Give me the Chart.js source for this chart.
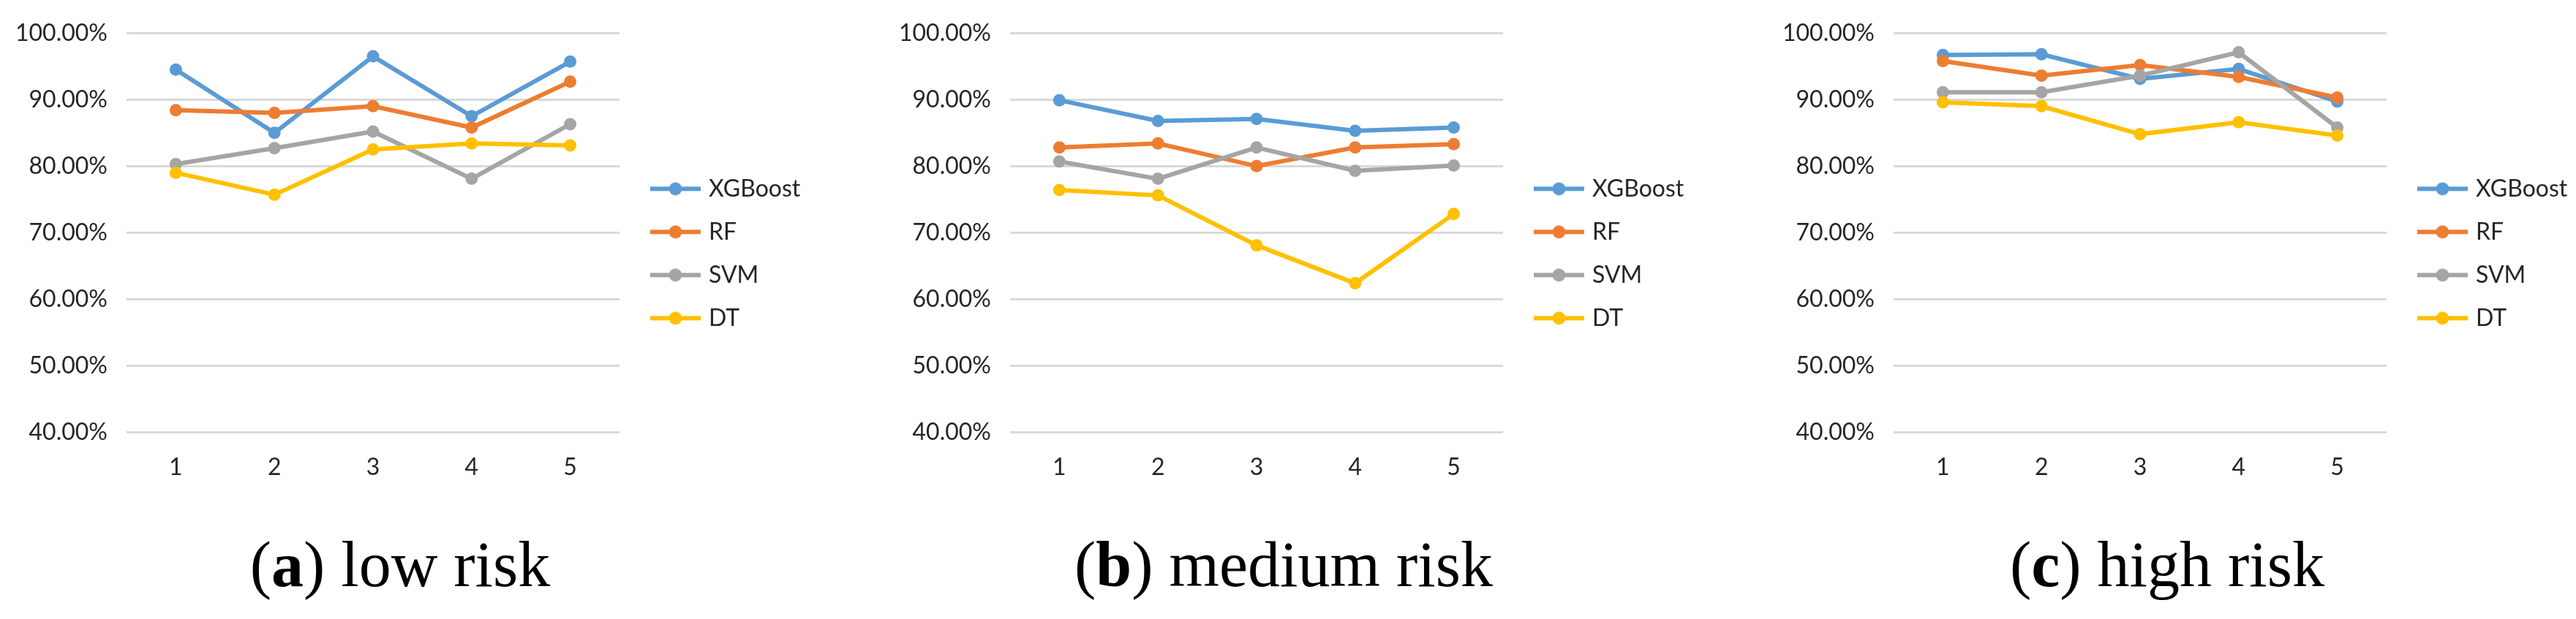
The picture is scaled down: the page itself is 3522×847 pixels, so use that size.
<!DOCTYPE html>
<html><head><meta charset="utf-8">
<script src="https://cdn.jsdelivr.net/npm/chart.js@4.4.1/dist/chart.umd.min.js"></script>
<style>
html,body{margin:0;padding:0;background:#fff;width:3522px;height:847px;overflow:hidden;position:relative;}
.panel{position:absolute;top:0;width:1200px;height:700px;}
.cap{position:absolute;top:729px;width:700px;text-align:center;font-family:"Liberation Serif","Times New Roman",serif;font-size:88px;line-height:88px;color:#000;white-space:nowrap;}
</style></head><body>
<div class="panel" style="left:0px"><canvas id="cA" width="1200" height="700"></canvas></div>
<div class="panel" style="left:1208px"><canvas id="cB" width="1200" height="700"></canvas></div>
<div class="panel" style="left:2416px"><canvas id="cC" width="1200" height="700"></canvas></div>
<div class="cap" style="left:197px">(<b>a</b>) low risk</div>
<div class="cap" style="left:1405px">(<b>b</b>) medium risk</div>
<div class="cap" style="left:2613px">(<b>c</b>) high risk</div>
<script>
const categories = ['1','2','3','4','5'];
const seriesNames = ['XGBoost','RF','SVM','DT'];
const seriesColors = ['#5B9BD5','#ED7D31','#A5A5A5','#FFC000'];
const yTickValues = [40,50,60,70,80,90,100];

const lowXGBoost = [94.5, 85.0, 96.5, 87.5, 95.7];
const lowRF      = [88.4, 88.0, 89.0, 85.8, 92.7];
const lowSVM     = [80.3, 82.7, 85.2, 78.1, 86.3];
const lowDT      = [79.0, 75.7, 82.5, 83.4, 83.1];

const medXGBoost = [89.9, 86.8, 87.1, 85.3, 85.8];
const medRF      = [82.8, 83.4, 80.0, 82.8, 83.3];
const medSVM     = [80.7, 78.1, 82.8, 79.3, 80.1];
const medDT      = [76.4, 75.6, 68.1, 62.4, 72.8];

const highXGBoost = [96.7, 96.8, 93.1, 94.6, 89.7];
const highRF      = [95.8, 93.6, 95.2, 93.4, 90.3];
const highSVM     = [91.1, 91.1, 93.6, 97.1, 85.8];
const highDT      = [89.6, 89.0, 84.8, 86.6, 84.6];

const panels = [
  {id:'cA', series:[lowXGBoost, lowRF, lowSVM, lowDT]},
  {id:'cB', series:[medXGBoost, medRF, medSVM, medDT]},
  {id:'cC', series:[highXGBoost, highRF, highSVM, highDT]}
];

const textColor = '#262626';
const fontFamily = 'Lato, "Open Sans", sans-serif';
const tickFont = {family: fontFamily, size: 32};

// legend geometry: width computed from text so the plot area ends at the same place
const LEGEND_PAD = 27, LEGEND_BOX = 79, CANVAS_W = 1200, PLOT_RIGHT = 847;
const mctx = document.createElement('canvas').getContext('2d');
mctx.font = '32px ' + fontFamily;
const maxText = Math.max(...seriesNames.map(s => mctx.measureText(s).width));
const legendW = LEGEND_PAD + LEGEND_BOX + 16 + maxText + 10;
const padRight = Math.max(0, CANVAS_W - PLOT_RIGHT - legendW);

function legendImage(color){
  const c = document.createElement('canvas');
  c.width = 89; c.height = 24;
  const g = c.getContext('2d');
  g.strokeStyle = color; g.lineWidth = 6;
  g.beginPath(); g.moveTo(20,12); g.lineTo(89,12); g.stroke();
  g.fillStyle = color;
  g.beginPath(); g.arc(54.5,12,9,0,Math.PI*2); g.fill();
  return c;
}
const legendImages = seriesColors.map(legendImage);

panels.forEach(p => {
  const datasets = p.series.map((vals, i) => ({
    label: seriesNames[i],
    data: vals,
    borderColor: seriesColors[i],
    backgroundColor: seriesColors[i],
    borderWidth: 6,
    pointRadius: 8.5,
    pointBorderWidth: 0,
    pointBackgroundColor: seriesColors[i],
    tension: 0,
    order: seriesNames.length - i
  }));
  new Chart(document.getElementById(p.id), {
    type: 'line',
    data: {labels: categories, datasets},
    options: {
      responsive: false,
      animation: false,
      layout: {padding: {left: 0, top: 42.5, right: padRight, bottom: 0}},
      scales: {
        x: {
          type: 'category', offset: true,
          grid: {display: false, drawTicks: false},
          border: {display: false},
          ticks: {padding: 29.3, color: textColor, font: tickFont, maxRotation: 0},
          afterFit: s => { s.height = 108.5; }
        },
        y: {
          min: 40, max: 100,
          grid: {color: '#D9D9D9', lineWidth: 3, drawTicks: false},
          border: {display: false},
          ticks: {padding: 26, color: textColor, font: tickFont,
                  callback: v => Number(v).toFixed(2) + '%'},
          afterBuildTicks: s => { s.ticks = yTickValues.map(v => ({value: v})); },
          afterFit: s => { s.width = 173; }
        }
      },
      plugins: {
        tooltip: {enabled: false},
        legend: {
          position: 'right', align: 'center', fullSize: false,
          title: {display: true, text: '', padding: {top: 0, bottom: 18.6}, font: {size: 32}},
          labels: {
            usePointStyle: true, pointStyleWidth: LEGEND_BOX, padding: LEGEND_PAD,
            color: textColor, font: tickFont,
            sort: (a, b) => a.datasetIndex - b.datasetIndex,
            generateLabels: chart => {
              const items = Chart.defaults.plugins.legend.labels.generateLabels(chart);
              items.forEach(it => { it.pointStyle = legendImages[it.datasetIndex]; it.fontColor = textColor; });
              return items;
            }
          }
        }
      }
    }
  });
});
</script>
</body></html>
